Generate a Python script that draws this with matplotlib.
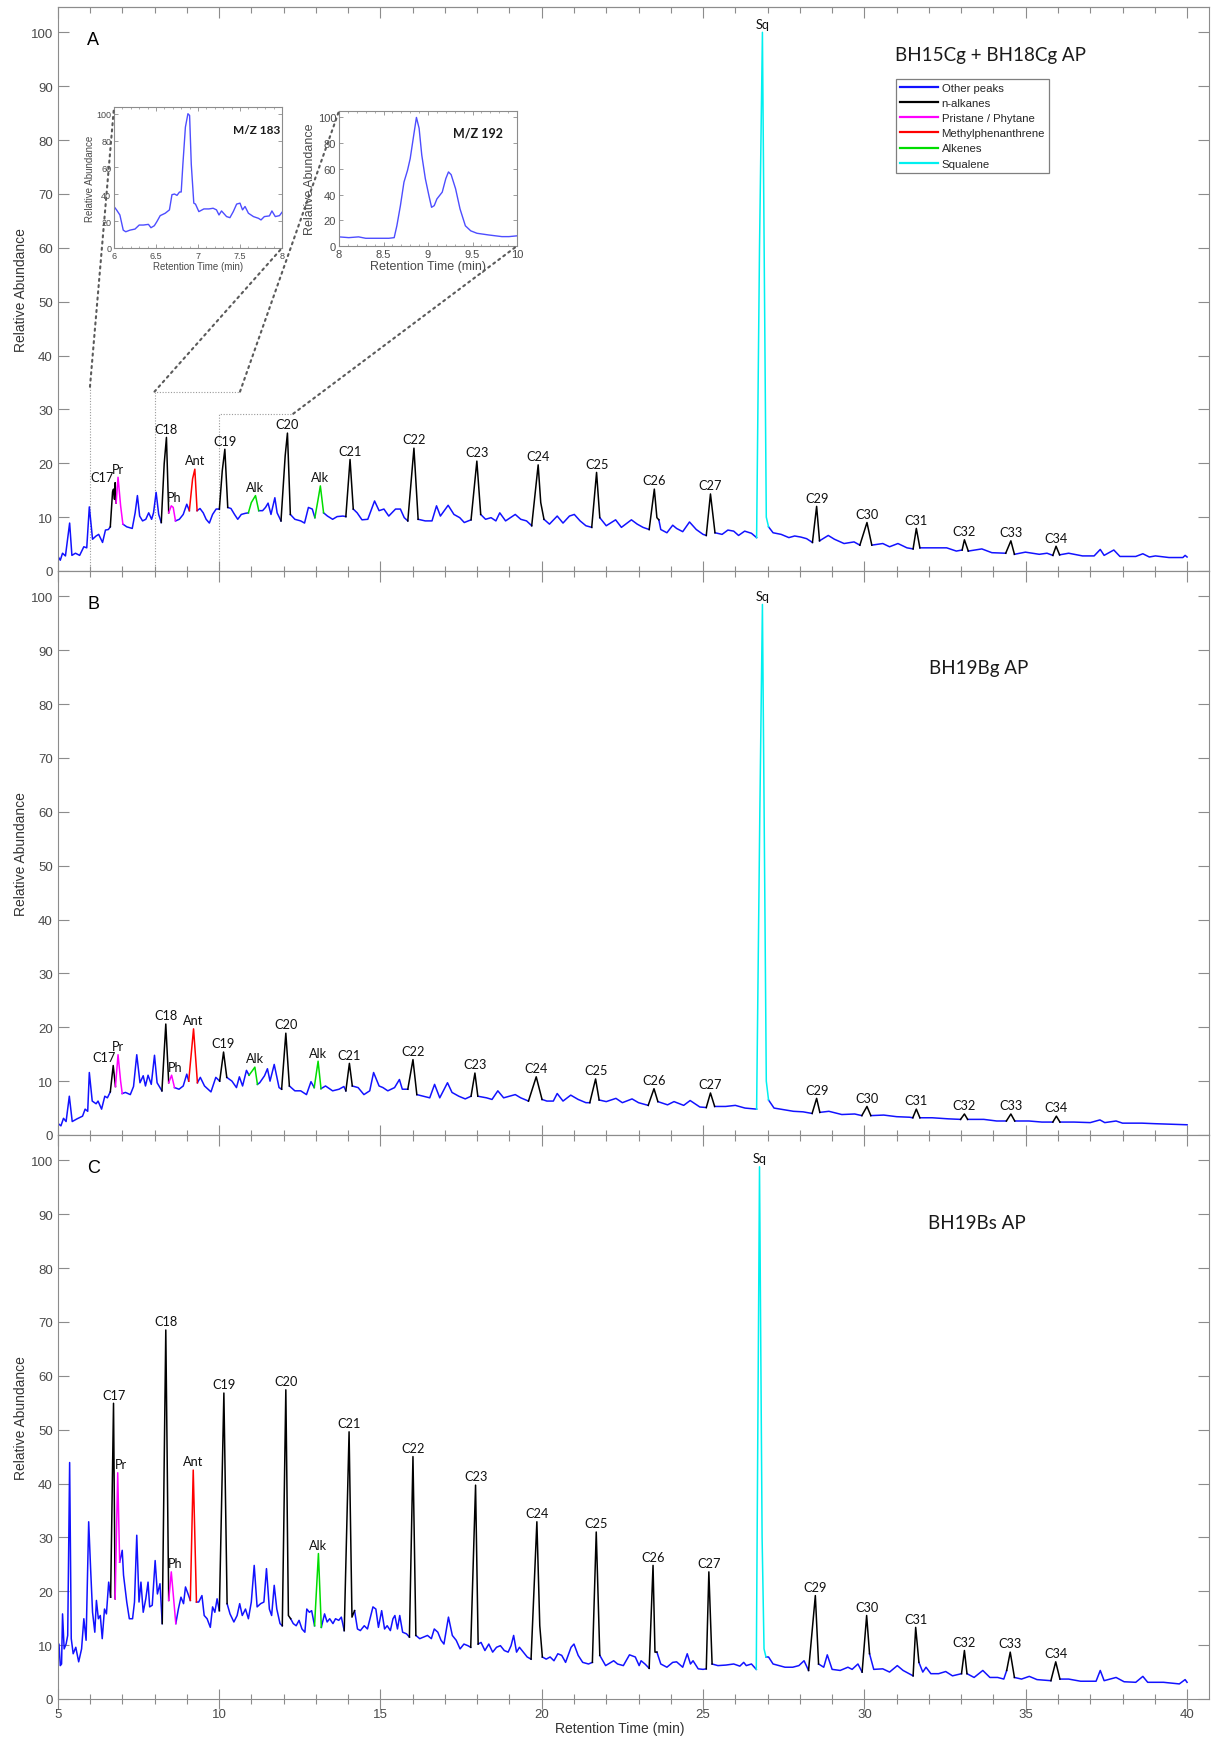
import numpy as np
import matplotlib
matplotlib.use('Agg')
import matplotlib.pyplot as plt
from matplotlib.lines import Line2D
from matplotlib.patches import ConnectionPatch

plt.rcParams['font.family'] = ['Liberation Sans', 'DejaVu Sans']

# ====================================
# data (retention time [min], relative abundance)
# ====================================
t_A = [5.0, 5.08, 5.15, 5.24, 5.37, 5.44, 5.55, 5.68, 5.81, 5.9, 5.98, 6.08, 6.19, 6.27, 6.39, 6.48, 6.57,
       6.63, 6.7, 6.73, 6.76, 6.78, 6.81, 6.87, 6.95, 7.02, 7.14, 7.31, 7.4, 7.47, 7.54, 7.63, 7.73, 7.82,
       7.91, 7.97, 8.05, 8.13, 8.21, 8.3, 8.37, 8.44, 8.52, 8.58, 8.65, 8.77, 8.89, 9.0, 9.08, 9.18, 9.25,
       9.32, 9.41, 9.51, 9.6, 9.7, 9.8, 9.91, 10.01, 10.1, 10.18, 10.27, 10.37, 10.48, 10.58, 10.69, 10.81,
       10.91, 11.0, 11.13, 11.23, 11.35, 11.44, 11.52, 11.61, 11.73, 11.8, 11.92, 12.05, 12.12, 12.21, 12.35,
       12.53, 12.65, 12.77, 12.89, 12.97, 13.07, 13.14, 13.24, 13.36, 13.52, 13.66, 13.84, 13.93, 14.06,
       14.16, 14.28, 14.43, 14.61, 14.82, 14.96, 15.11, 15.26, 15.47, 15.62, 15.74, 15.85, 16.04, 16.17,
       16.39, 16.6, 16.74, 16.86, 17.1, 17.28, 17.46, 17.6, 17.81, 17.99, 18.11, 18.26, 18.43, 18.58, 18.7,
       18.88, 19.18, 19.35, 19.53, 19.69, 19.89, 19.97, 20.07, 20.24, 20.48, 20.66, 20.86, 21.01, 21.19,
       21.37, 21.55, 21.7, 21.8, 22.0, 22.29, 22.47, 22.78, 22.96, 23.14, 23.33, 23.49, 23.57, 23.63, 23.69,
       23.88, 24.06, 24.18, 24.37, 24.58, 24.79, 25.0, 25.1, 25.23, 25.37, 25.59, 25.77, 25.95, 26.1, 26.29,
       26.5, 26.66, 26.75, 26.84, 26.92, 26.96, 27.03, 27.17, 27.42, 27.66, 27.84, 28.03, 28.21, 28.39,
       28.52, 28.61, 28.88, 29.07, 29.37, 29.68, 29.86, 30.08, 30.23, 30.57, 30.78, 31.04, 31.32, 31.51,
       31.61, 31.72, 32.06, 32.55, 32.85, 33.03, 33.1, 33.22, 33.64, 33.95, 34.38, 34.54, 34.65, 34.99,
       35.42, 35.66, 35.84, 35.94, 36.05, 36.33, 36.76, 37.12, 37.31, 37.43, 37.73, 37.92, 38.41, 38.63,
       38.83, 39.02, 39.44, 39.87, 39.94, 40.0]
y_A = [2.8, 2.0, 3.3, 2.8, 8.9, 2.9, 3.3, 2.9, 4.5, 4.3, 11.9, 5.9, 6.5, 6.8, 5.3, 7.6, 7.7,
       8.2, 14.7, 15.2, 13.3, 16.4, 12.6, 17.4, 12.1, 8.7, 8.2, 7.9, 10.8, 14.0, 10.2, 9.3, 9.6, 10.8,
       9.6, 10.8, 14.6, 10.5, 9.0, 19.9, 24.8, 10.8, 12.1, 11.8, 9.3, 9.6, 10.5, 12.4, 11.2, 17.1, 18.9,
       11.2, 11.6, 10.8, 9.6, 8.9, 10.5, 11.5, 11.5, 18.6, 22.6, 11.8, 11.6, 10.5, 9.6, 10.5, 10.7,
       10.8, 12.7, 14.0, 11.2, 11.2, 11.8, 12.6, 10.5, 13.6, 10.8, 9.3, 21.4, 25.6, 10.5, 9.6,
       9.3, 8.9, 11.8, 11.5, 9.9, 13.3, 15.8, 10.8, 10.2, 9.6, 10.1, 10.2, 10.1, 20.7,
       11.5, 10.8, 9.5, 9.6, 13.0, 11.2, 11.5, 10.2, 11.5, 11.5, 9.9, 9.3, 22.8, 9.6,
       9.3, 9.3, 12.1, 10.2, 12.2, 10.5, 9.9, 9.0, 9.5, 20.4, 10.5, 9.6, 9.9, 9.3, 10.8,
       9.3, 10.5, 9.6, 9.3, 8.4, 19.7, 12.7, 9.6, 8.7, 10.2, 8.9, 10.2, 10.5, 9.3,
       8.4, 8.1, 18.3, 9.9, 8.4, 9.5, 8.1, 9.5, 8.7, 8.1, 7.7, 15.2, 9.9, 9.5, 7.7,
       7.1, 8.5, 7.9, 7.3, 9.1, 7.7, 6.8, 6.6, 14.3, 7.1, 6.8, 7.6, 7.4, 6.6, 7.4,
       7.0, 6.2, 60.0, 100.0, 40.0, 10.0, 8.2, 7.1, 6.8, 6.2, 6.5, 6.3, 6.0, 5.3,
       12.0, 5.6, 6.6, 5.9, 5.1, 5.4, 4.8, 9.0, 4.8, 5.1, 4.5, 5.1, 4.3, 4.1,
       7.9, 4.3, 4.3, 4.3, 3.7, 3.9, 5.8, 3.7, 4.1, 3.4, 3.3, 5.6, 3.1, 3.5,
       3.1, 3.3, 2.9, 4.6, 3.0, 3.3, 2.8, 2.8, 4.0, 2.9, 3.9, 2.7, 2.7, 3.2,
       2.6, 2.8, 2.5, 2.5, 2.9, 2.6]

t_B = [5.0, 5.1, 5.18, 5.26, 5.36, 5.45, 5.6, 5.77, 5.85, 5.93, 5.98, 6.07, 6.19, 6.25, 6.36, 6.46, 6.54,
       6.63, 6.72, 6.79, 6.87, 6.95, 7.0, 7.1, 7.25, 7.35, 7.45, 7.55, 7.65, 7.72, 7.8, 7.9, 8.0, 8.08,
       8.23, 8.35, 8.44, 8.53, 8.62, 8.76, 8.89, 9.0, 9.06, 9.21, 9.33, 9.42, 9.55, 9.75, 9.9, 10.02,
       10.14, 10.24, 10.4, 10.54, 10.63, 10.73, 10.85, 10.93, 11.04, 11.11, 11.19, 11.26, 11.41, 11.5,
       11.58, 11.71, 11.86, 11.94, 12.07, 12.18, 12.35, 12.53, 12.71, 12.85, 12.95, 13.07, 13.16, 13.3,
       13.52, 13.72, 13.87, 13.93, 14.04, 14.13, 14.31, 14.49, 14.67, 14.79, 14.96, 15.08, 15.23, 15.44,
       15.59, 15.68, 15.85, 16.01, 16.13, 16.33, 16.53, 16.68, 16.84, 17.08, 17.22, 17.43, 17.63, 17.81,
       17.93, 18.02, 18.29, 18.46, 18.64, 18.82, 19.0, 19.18, 19.35, 19.59, 19.83, 19.89, 20.01, 20.16,
       20.36, 20.48, 20.66, 20.9, 21.13, 21.37, 21.49, 21.67, 21.78, 22.0, 22.3, 22.5, 22.8, 23.0, 23.3,
       23.48, 23.6, 23.9, 24.1, 24.4, 24.6, 24.9, 25.1, 25.23, 25.36, 25.7, 26.0, 26.3, 26.66, 26.76,
       26.84, 26.92, 26.96, 27.03, 27.2, 27.5, 27.8, 28.1, 28.38, 28.52, 28.62, 28.9, 29.3, 29.7, 29.92,
       30.08, 30.2, 30.6, 31.0, 31.4, 31.5, 31.61, 31.72, 32.1, 32.6, 32.98, 33.1, 33.2, 33.7, 34.1, 34.4,
       34.54, 34.66, 35.1, 35.5, 35.84, 35.95, 36.06, 36.5, 37.0, 37.3, 37.45, 37.8, 38.0, 38.6, 39.0,
       39.5, 40.0]
y_B = [2.2, 1.7, 3.1, 2.5, 7.2, 2.5, 3.0, 3.5, 4.8, 4.4, 11.6, 6.3, 5.8, 6.3, 4.8, 7.2, 6.9,
       8.0, 12.9, 9.0, 14.9, 10.0, 7.7, 7.9, 7.5, 9.0, 14.9, 9.7, 11.0, 9.1, 11.1, 9.4, 14.8, 9.7,
       8.2, 20.6, 9.7, 11.1, 8.8, 8.5, 9.1, 11.3, 10.0, 19.7, 9.7, 10.7, 9.1, 8.0, 10.7, 10.0,
       15.4, 10.7, 10.0, 8.8, 10.8, 9.1, 12.0, 11.1, 12.0, 12.6, 9.4, 9.7, 11.0, 12.3,
       10.0, 13.1, 8.8, 8.5, 18.9, 9.1, 8.2, 8.2, 7.5, 9.9, 8.8, 13.7, 8.6, 9.1,
       8.2, 8.5, 9.0, 8.2, 13.3, 9.1, 8.8, 7.5, 8.2, 11.6, 9.1, 8.8, 8.2, 8.8,
       10.3, 8.5, 8.5, 14.0, 7.5, 7.2, 6.9, 9.4, 6.9, 9.7, 7.9, 7.2, 6.7, 7.2,
       11.5, 7.2, 6.9, 6.6, 8.2, 6.9, 7.2, 7.5, 6.9, 6.3, 10.8, 9.4, 6.6, 6.3,
       6.3, 7.7, 6.3, 7.4, 6.6, 6.0, 6.0, 10.4, 6.5, 6.2, 6.8, 6.0, 6.7, 6.0, 5.5,
       8.6, 6.2, 5.6, 6.2, 5.5, 6.4, 5.2, 5.1, 7.8, 5.3, 5.3, 5.5, 5.0, 4.8, 60.0,
       98.5, 40.0, 10.0, 6.5, 5.0, 4.7, 4.4, 4.3, 4.0, 6.8, 4.2, 4.4, 3.8, 3.9, 3.6,
       5.3, 3.6, 3.7, 3.4, 3.3, 3.2, 4.8, 3.2, 3.2, 3.0, 2.9, 3.9, 2.9, 2.9, 2.6, 2.6,
       3.9, 2.6, 2.6, 2.4, 2.4, 3.5, 2.4, 2.4, 2.3, 2.8, 2.3, 2.6, 2.2, 2.2, 2.1,
       2.0, 1.9]

t_C = [5.0, 5.04, 5.08, 5.12, 5.15, 5.2, 5.26, 5.31, 5.37, 5.42, 5.48, 5.56, 5.65, 5.74, 5.81, 5.88,
       5.96, 6.02, 6.08, 6.15, 6.2, 6.26, 6.32, 6.38, 6.45, 6.51, 6.58, 6.64, 6.73, 6.78, 6.86, 6.92,
       7.0, 7.04, 7.14, 7.22, 7.32, 7.38, 7.45, 7.52, 7.58, 7.65, 7.73, 7.8, 7.85, 7.93, 8.02, 8.09,
       8.17, 8.24, 8.35, 8.44, 8.52, 8.66, 8.74, 8.82, 8.9, 8.96, 9.04, 9.11, 9.2, 9.3, 9.37, 9.47,
       9.54, 9.63, 9.73, 9.8, 9.87, 9.94, 10.01, 10.15, 10.25, 10.34, 10.46, 10.56, 10.64, 10.72,
       10.82, 10.91, 11.0, 11.09, 11.18, 11.29, 11.39, 11.47, 11.56, 11.63, 11.71, 11.79, 11.89,
       11.96, 12.07, 12.15, 12.22, 12.3, 12.39, 12.48, 12.57, 12.66, 12.72, 12.8, 12.87, 12.96,
       13.08, 13.17, 13.27, 13.35, 13.43, 13.53, 13.61, 13.71, 13.79, 13.88, 14.03, 14.12, 14.2,
       14.29, 14.38, 14.5, 14.6, 14.68, 14.77, 14.86, 14.94, 15.04, 15.13, 15.21, 15.31, 15.39,
       15.45, 15.53, 15.6, 15.69, 15.81, 15.9, 16.01, 16.1, 16.22, 16.34, 16.46, 16.58, 16.67,
       16.78, 16.88, 16.97, 17.11, 17.23, 17.35, 17.47, 17.59, 17.71, 17.8, 17.95, 18.03, 18.12,
       18.24, 18.36, 18.48, 18.6, 18.72, 18.84, 18.96, 19.05, 19.13, 19.22, 19.31, 19.43, 19.55,
       19.67, 19.85, 19.94, 20.02, 20.14, 20.26, 20.38, 20.5, 20.62, 20.74, 20.91, 21.0, 21.13,
       21.27, 21.45, 21.57, 21.69, 21.8, 21.98, 22.23, 22.35, 22.53, 22.72, 22.9, 23.02, 23.08,
       23.2, 23.33, 23.45, 23.51, 23.57, 23.69, 23.88, 24.06, 24.18, 24.37, 24.51, 24.61, 24.69,
       24.85, 25.0, 25.1, 25.18, 25.28, 25.46, 25.71, 25.95, 26.14, 26.26, 26.34, 26.5, 26.65,
       26.75, 26.83, 26.89, 26.95, 27.03, 27.17, 27.36, 27.54, 27.78, 27.97, 28.13, 28.27, 28.48,
       28.58, 28.74, 28.85, 29.0, 29.25, 29.49, 29.62, 29.8, 29.93, 30.07, 30.16, 30.29, 30.57,
       30.78, 31.02, 31.2, 31.51, 31.59, 31.69, 31.81, 31.91, 32.06, 32.3, 32.52, 32.73, 33.01,
       33.1, 33.18, 33.4, 33.67, 33.89, 34.13, 34.32, 34.41, 34.52, 34.65, 34.87, 35.11, 35.35,
       35.78, 35.93, 36.06, 36.33, 36.7, 37.18, 37.31, 37.43, 37.8, 38.05, 38.41, 38.63, 38.78,
       39.27, 39.76, 39.94, 40.0]
y_C = [8.4, 10.2, 6.2, 6.5, 15.8, 9.3, 10.2, 11.8, 43.9, 11.2, 8.4, 9.6, 6.9, 9.3, 14.9, 10.9,
       32.9, 24.2, 16.1, 12.4, 18.3, 14.9, 15.5, 11.2, 16.7, 15.8, 21.7, 18.9, 54.9, 18.6, 42.0, 25.4,
       27.6, 23.0, 18.0, 14.9, 14.9, 18.0, 30.4, 18.0, 21.7, 16.1, 18.6, 21.7, 17.1, 17.4, 25.7, 19.5,
       21.4, 14.0, 68.5, 18.3, 23.6, 14.0, 16.7, 18.9, 17.7, 20.8, 19.5, 18.3, 42.5, 18.0, 18.0, 19.2,
       15.5, 14.9, 13.3, 17.1, 16.1, 18.6, 16.4, 56.8, 17.7, 15.8, 14.3, 15.5, 17.7, 15.5,
       16.7, 14.9, 18.0, 24.8, 17.1, 17.7, 18.0, 24.2, 16.7, 15.5, 21.1, 16.7, 14.0,
       13.6, 57.4, 15.5, 14.9, 14.0, 13.6, 14.6, 13.0, 12.4, 16.7, 16.1, 16.4, 13.6,
       27.0, 13.3, 15.8, 14.3, 14.9, 14.0, 14.9, 14.6, 15.2, 12.7, 49.6, 15.2, 16.4,
       13.0, 12.7, 13.6, 13.0, 14.9, 17.1, 16.7, 13.3, 16.4, 13.0, 13.6, 12.7, 14.9,
       15.5, 13.0, 15.5, 12.4, 12.1, 11.5, 45.0, 11.8, 11.2, 11.5, 11.8, 11.2, 13.0,
       12.4, 10.9, 10.2, 15.2, 11.8, 10.9, 9.3, 10.2, 9.9, 9.6, 39.7, 10.2, 10.5,
       9.0, 10.2, 8.7, 9.6, 9.9, 9.0, 8.7, 9.9, 11.8, 8.7, 9.6, 8.7, 7.8,
       7.4, 32.9, 13.6, 7.8, 7.4, 7.8, 7.1, 8.4, 8.1, 6.8, 9.6, 10.2, 8.1,
       6.8, 6.5, 6.8, 31.0, 8.1, 6.2, 7.1, 6.5, 6.2, 8.2, 7.8, 6.2, 7.1,
       6.5, 5.7, 24.8, 8.7, 8.7, 6.5, 5.9, 6.8, 6.9, 5.9, 8.4, 6.5, 7.1,
       5.6, 5.5, 5.6, 23.6, 6.5, 6.2, 6.3, 6.5, 6.1, 6.8, 6.2, 6.5, 5.5,
       98.8, 30.0, 9.3, 7.8, 7.8, 6.5, 6.2, 5.9, 5.9, 6.2, 7.1, 5.3, 19.2,
       6.5, 5.9, 8.2, 5.5, 5.3, 5.9, 5.5, 6.5, 5.0, 15.5, 8.4, 5.5, 5.6,
       5.0, 6.2, 5.3, 4.3, 13.3, 6.8, 5.0, 5.9, 4.7, 4.7, 5.1, 4.3, 4.7,
       9.0, 4.7, 4.0, 5.3, 4.0, 4.0, 3.7, 5.3, 8.7, 4.0, 3.7, 4.2, 3.6,
       3.4, 6.9, 3.7, 3.7, 3.3, 3.3, 5.3, 3.4, 4.0, 3.2, 3.1, 4.2, 3.1,
       3.1, 2.8, 3.6, 3.1]

# labelled peaks: (label, compound class, start time, end time)
peaks_A = [("C17", "alk", 6.63, 6.81), ("Pr", "pp", 6.81, 7.02), ("C18", "alk", 8.21, 8.44),
           ("Ph", "pp", 8.44, 8.65), ("Ant", "mp", 9.08, 9.32), ("C19", "alk", 10.01, 10.27),
           ("Alk", "ene", 10.91, 11.23), ("C20", "alk", 11.92, 12.21), ("Alk", "ene", 12.97, 13.24),
           ("C21", "alk", 13.93, 14.16), ("C22", "alk", 15.85, 16.17), ("C23", "alk", 17.81, 18.11),
           ("C24", "alk", 19.69, 20.07), ("C25", "alk", 21.55, 21.8), ("C26", "alk", 23.33, 23.63),
           ("C27", "alk", 25.1, 25.37), ("Sq", "sq", 26.66, 27.03), ("C29", "alk", 28.39, 28.61),
           ("C30", "alk", 29.86, 30.23), ("C31", "alk", 31.51, 31.72), ("C32", "alk", 33.03, 33.22),
           ("C33", "alk", 34.38, 34.65), ("C34", "alk", 35.84, 36.05)]
peaks_B = [("C17", "alk", 6.63, 6.79), ("Pr", "pp", 6.79, 7.0), ("C18", "alk", 8.23, 8.44),
           ("Ph", "pp", 8.44, 8.62), ("Ant", "mp", 9.06, 9.33), ("C19", "alk", 10.02, 10.24),
           ("Alk", "ene", 10.93, 11.19), ("C20", "alk", 11.94, 12.18), ("Alk", "ene", 12.95, 13.16),
           ("C21", "alk", 13.93, 14.13), ("C22", "alk", 15.85, 16.13), ("C23", "alk", 17.81, 18.02),
           ("C24", "alk", 19.59, 20.01), ("C25", "alk", 21.49, 21.78), ("C26", "alk", 23.3, 23.6),
           ("C27", "alk", 25.1, 25.36), ("Sq", "sq", 26.66, 27.03), ("C29", "alk", 28.38, 28.62),
           ("C30", "alk", 29.92, 30.2), ("C31", "alk", 31.5, 31.72), ("C32", "alk", 32.98, 33.2),
           ("C33", "alk", 34.4, 34.66), ("C34", "alk", 35.84, 36.06)]
peaks_C = [("C17", "alk", 6.64, 6.78), ("Pr", "pp", 6.78, 6.92), ("C18", "alk", 8.24, 8.44),
           ("Ph", "pp", 8.44, 8.66), ("Ant", "mp", 9.11, 9.3), ("C19", "alk", 10.01, 10.25),
           ("C20", "alk", 11.96, 12.22), ("Alk", "ene", 12.96, 13.17), ("C21", "alk", 13.88, 14.2),
           ("C22", "alk", 15.9, 16.1), ("C23", "alk", 17.8, 18.03), ("C24", "alk", 19.67, 20.02),
           ("C25", "alk", 21.57, 21.8), ("C26", "alk", 23.33, 23.57), ("C27", "alk", 25.1, 25.28),
           ("Sq", "sq", 26.65, 26.95), ("C29", "alk", 28.27, 28.58), ("C30", "alk", 29.93, 30.16),
           ("C31", "alk", 31.51, 31.69), ("C32", "alk", 33.01, 33.18), ("C33", "alk", 34.41, 34.65),
           ("C34", "alk", 35.78, 36.06)]

# extracted ion chromatograms (insets)
t_mz183 = [6.0, 6.03, 6.07, 6.11, 6.14, 6.19, 6.25, 6.3, 6.35, 6.41, 6.44, 6.48, 6.51, 6.55, 6.61,
           6.66, 6.69, 6.72, 6.75, 6.78, 6.8, 6.82, 6.85, 6.88, 6.9, 6.92, 6.95, 6.97, 7.01, 7.07,
           7.13, 7.18, 7.22, 7.25, 7.28, 7.34, 7.38, 7.42, 7.46, 7.5, 7.53, 7.56, 7.6, 7.66, 7.72,
           7.75, 7.79, 7.85, 7.88, 7.92, 7.97, 8.0]
y_mz183 = [30.9, 28.4, 24.6, 13.3, 12.1, 13.3, 14.1, 17.1, 17.1, 17.6, 15.1, 16.6, 19.6, 24.1, 25.9,
           28.4, 39.7, 40.2, 39.2, 41.7, 41.7, 62.3, 90.0, 100.0, 98.7, 62.3, 33.4, 32.7, 27.1, 29.1,
           29.1, 29.6, 28.4, 24.6, 27.6, 23.4, 22.6, 27.1, 32.7, 33.4, 28.4, 30.9, 25.9, 23.4, 22.1,
           20.9, 23.4, 23.9, 27.6, 23.4, 24.1, 26.6]
t_mz192 = [8.0, 8.11, 8.22, 8.3, 8.45, 8.56, 8.62, 8.65, 8.69, 8.73, 8.77, 8.8, 8.84, 8.87, 8.9,
           8.93, 8.97, 9.01, 9.04, 9.07, 9.1, 9.16, 9.2, 9.23, 9.26, 9.31, 9.36, 9.42, 9.48, 9.55,
           9.68, 9.83, 9.91, 10.0]
y_mz192 = [7.1, 6.5, 7.1, 6.0, 6.0, 6.0, 6.5, 15.7, 31.4, 49.7, 58.9, 68.0, 86.4, 100.0, 91.6,
           70.7, 52.4, 39.3, 30.1, 31.4, 36.6, 41.9, 52.4, 57.6, 55.5, 44.5, 28.8, 15.7, 11.8, 9.9,
           8.6, 7.3, 7.3, 7.9]

class_names = ["Other peaks", "n-alkanes", "Pristane / Phytane", "Methylphenanthrene", "Alkenes", "Squalene"]
class_keys = ["other", "alk", "pp", "mp", "ene", "sq"]
class_colors = ["#1212ff", "#000000", "#ff00ff", "#ff0000", "#00dd00", "#00f0f0"]
COL = dict(zip(class_keys, class_colors))

# ====================================
# layout (figure pixel geometry of the original)
# ====================================
W, H = 1218, 1740
fig = plt.figure(figsize=(W / 100, H / 100), dpi=100)
SPINE = "#8c8c8c"
TICKC = "#4a4a4a"
LW = 1.1
XMAX = 40.68
YMAX = 104.7

left = 57.7 / W
width = (1209 - 57.7) / W
ph = 564 / H


def draw_panel(ax, t, y, peaks, offsets, title, title_xy, letter, first_label, xpad):
    t = np.asarray(t, dtype=float)
    y = np.asarray(y, dtype=float)
    # blue trace everywhere except inside the labelled peaks
    y_other = y.copy()
    for name, cls, t0, t1 in peaks:
        y_other[(t > t0 + 1e-9) & (t < t1 - 1e-9)] = np.nan
    ax.plot(t, y_other, color=COL["other"], lw=LW, zorder=2)
    for name, cls, t0, t1 in peaks:
        m = (t >= t0 - 1e-9) & (t <= t1 + 1e-9)
        ax.plot(t[m], y[m], color=COL[cls], lw=LW, zorder=3)
        i = np.argmax(np.where(m, y, -1.0))
        dx, dy = offsets.get(name, (0.0, 0.0))
        ax.text(t[i] + dx, y[i] + 0.5 + dy, name, ha="center", va="bottom",
                fontsize=9.2, family=["Lato", "DejaVu Sans"], color="#111111", zorder=4)

    ax.set_xlim(5, XMAX)
    ax.set_ylim(0, YMAX)
    ax.set_xticks(np.arange(5, 41, 5))
    ax.set_xticklabels([str(v) if (v > 5 or first_label) else "" for v in range(5, 41, 5)])
    ax.set_xticks(np.arange(5, 41, 1), minor=True)
    ax.set_yticks(np.arange(0, 101, 10))
    ax.tick_params(axis="x", which="major", direction="inout", length=14, width=0.8,
                   color=SPINE, labelsize=9.5, labelcolor=TICKC, pad=xpad)
    ax.tick_params(axis="x", which="minor", direction="inout", length=7, width=0.8, color=SPINE)
    ax.tick_params(axis="y", which="major", direction="in", length=8, width=0.8, right=True,
                   color=SPINE, labelsize=9.5, labelcolor=TICKC, pad=3.5)
    top = ax.secondary_xaxis("top")
    top.set_xticks(np.arange(5, 41, 5))
    top.set_xticks(np.arange(5, 41, 1), minor=True)
    top.tick_params(which="major", direction="in", length=8, width=0.8, color=SPINE, labeltop=False)
    top.tick_params(which="minor", direction="in", length=4.3, width=0.8, color=SPINE)
    top.spines["top"].set_color(SPINE)
    for s in ax.spines.values():
        s.set_color(SPINE)
        s.set_linewidth(0.8)
    ax.set_ylabel("Relative Abundance", fontsize=10, color="#333333", va="center")
    ax.yaxis.set_label_coords(-0.0315, 0.5)
    ax.text(6.1, 98.6, letter, fontsize=13, ha="center", va="center", color="black")
    ax.text(title_xy[0], title_xy[1], title, fontsize=13.5, ha="center", va="center",
            family=["Lato", "DejaVu Sans"], color="#1a1a1a")


axA = fig.add_axes([left, 1 - 572 / H, width, ph])
axB = fig.add_axes([left, 1 - 1136 / H, width, ph])
axC = fig.add_axes([left, 1 - 1700 / H, width, ph])

draw_panel(axA, t_A, y_A, peaks_A, {"C17": (-0.42, -0.6), "Ph": (0.1, 0)},
           "BH15Cg + BH18Cg AP", (33.9, 95.9), "A", False, 5.5)
draw_panel(axB, t_B, y_B, peaks_B, {"C17": (-0.3, 0), "Ph": (0.1, 0)},
           "BH19Bg AP", (33.55, 86.8), "B", False, 5.5)
draw_panel(axC, t_C, y_C, peaks_C, {"Pr": (0.1, 0), "Ph": (0.12, 0)},
           "BH19Bs AP", (33.5, 88.5), "C", True, -0.5)

fig.text(620 / W, 1 - 1729 / H, "Retention Time (min)", ha="center", va="center",
         fontsize=10, color="#333333")

# legend
handles = [Line2D([], [], color=c, lw=1.6) for c in class_colors]
leg = fig.legend(handles, class_names, loc="upper left", bbox_to_anchor=(896 / W, 1 - 80 / H),
                 bbox_transform=fig.transFigure, frameon=True, fancybox=False, framealpha=1,
                 edgecolor="#7f7f7f", fontsize=8.2, handlelength=3.3, handletextpad=0.35,
                 labelspacing=0.45, borderpad=0.35, borderaxespad=0)
leg.get_frame().set_linewidth(0.9)
for txt in leg.get_texts():
    txt.set_color("#262626")

# ====================================
# insets (m/z 183 and m/z 192)
# ====================================
def draw_inset(rect, t, y, xlim, xt, xtl, tag, tag_x, fs_tick, fs_lab, fs_tag):
    ins = fig.add_axes(rect)
    ins.plot(t, y, color="#4d4dff", lw=1.0)
    ins.set_xlim(*xlim)
    ins.set_ylim(0, 105)
    ins.set_xticks(xt)
    ins.set_xticklabels(xtl)
    ins.set_xticks(np.arange(xlim[0], xlim[1] + 0.001, 0.1), minor=True)
    ins.set_yticks(np.arange(0, 101, 20))
    ins.tick_params(which="major", direction="in", length=3, width=0.6, top=True, right=True,
                    color=SPINE, labelsize=fs_tick, labelcolor=TICKC, pad=2)
    ins.tick_params(which="minor", direction="in", length=1.5, width=0.5, top=True, color=SPINE)
    for s in ins.spines.values():
        s.set_color(SPINE)
        s.set_linewidth(0.8)
    ins.set_xlabel("Retention Time (min)", fontsize=fs_lab, color=TICKC, labelpad=1)
    ins.set_ylabel("Relative Abundance", fontsize=fs_lab, color=TICKC, labelpad=1)
    ins.text(tag_x, 0.84, tag, transform=ins.transAxes, ha="center", va="center",
             fontsize=fs_tag, fontweight="bold", family=["Lato", "DejaVu Sans"], color="#1a1a1a")
    return ins


ins1 = draw_inset([114 / W, 1 - 249 / H, 168 / W, 141 / H], t_mz183, y_mz183, (6, 8),
                  [6, 6.5, 7, 7.5, 8], ["6", "6.5", "7", "7.5", "8"], "M/Z 183", 0.85, 6.5, 7, 8.5)
ins2 = draw_inset([339 / W, 1 - 247 / H, 178 / W, 135 / H], t_mz192, y_mz192, (8, 10),
                  [8, 8.5, 9, 9.5, 10], ["8", "8.5", "9", "9.5", "10"], "M/Z 192", 0.78, 8, 9, 9)

# zoom guides
guide = dict(color="#9a9a9a", lw=0.8, ls=(0, (1, 1.5)), zorder=1)
axA.plot([6, 6], [0, 34.2], **guide)
axA.plot([8, 8, 10.65], [0, 33.3, 33.3], **guide)
axA.plot([10, 10, 12.3], [0, 29.2, 29.2], **guide)
links = [((6, 34.2), (0, 1), ins1), ((8, 33.3), (1, 0), ins1),
         ((10.65, 33.3), (0, 1), ins2), ((12.3, 29.2), (1, 0), ins2)]
for pa, pb, ins in links:
    con = ConnectionPatch(xyA=pa, coordsA=axA.transData, xyB=pb, coordsB=ins.transAxes,
                          color="#5a5a5a", lw=1.5, linestyle=(0, (1, 2)))
    fig.add_artist(con)

fig.savefig("out.png", dpi=100)
